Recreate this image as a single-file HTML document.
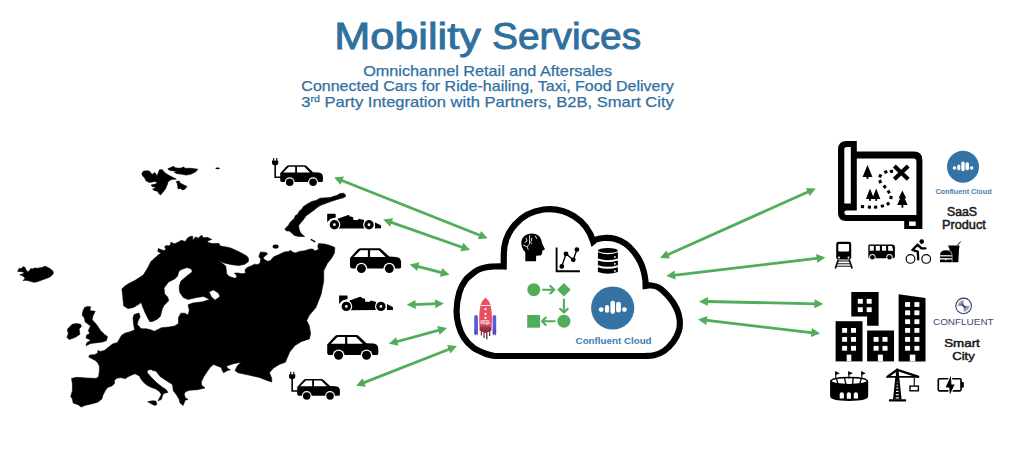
<!DOCTYPE html>
<html><head><meta charset="utf-8"><style>
html,body{margin:0;padding:0;background:#fff;}
body{width:1024px;height:458px;overflow:hidden;position:relative;font-family:"Liberation Sans",sans-serif;}
svg{position:absolute;left:0;top:0;}
</style></head><body>
<svg width="1024" height="458" viewBox="0 0 1024 458">
<g font-family="Liberation Sans" font-size="36" fill="#30709f" stroke="#30709f" stroke-width="0.9"><text x="334.2" y="48.8" textLength="146.7" lengthAdjust="spacingAndGlyphs">Mobility</text><text x="492" y="48.8" textLength="149.1" lengthAdjust="spacingAndGlyphs">Services</text></g>
<g font-family="Liberation Sans" font-size="14.6" fill="#30709f" stroke="#30709f" stroke-width="0.25" text-anchor="middle">
<text x="487.7" y="76.3" textLength="249" lengthAdjust="spacingAndGlyphs">Omnichannel Retail and Aftersales</text>
<text x="487.6" y="91.2" textLength="372.5" lengthAdjust="spacingAndGlyphs">Connected Cars for Ride-hailing, Taxi, Food Delivery</text>
<text x="487.6" y="106.6" textLength="372.5" lengthAdjust="spacingAndGlyphs">3<tspan font-size="9.4" dy="-4.7">rd</tspan><tspan dy="4.7"> Party Integration with Partners, B2B, Smart City</tspan></text>
</g>
<path d="M71.6,378.4 L76.5,377.3 L86.3,378 L96.1,378.4 L98.6,376.8 L99.4,371.1 L99.4,366.1 L97.8,362.9 L95.3,360.4 L92,358.8 L88.8,357.1 L89.6,355 L94.5,354.7 L97.8,353 L97.8,350.6 L100.2,351.4 L104.3,350.6 L108.4,347.3 L112.5,344 L117.5,342.4 L119.9,338.3 L121.5,335.4 L124.8,333.2 L129.2,332.1 L134.6,329.9 L133.5,323.4 L133,317.9 L134.1,314.6 L139,313 L140.1,316.8 L137.9,321.2 L137.4,324.5 L141.2,328.8 L146.6,328.8 L151,329.9 L154.4,331.3 L161.6,327.7 L168.8,327.1 L174.8,325.9 L178.5,323.5 L178.5,317.4 L180.9,313.2 L184.5,313.2 L188.1,315 L189.3,310.2 L188.1,304.8 L192.9,303 L202.5,301.8 L209.7,299.4 L203.7,296.4 L196.5,297.6 L188.1,299.4 L183.3,297.6 L179.7,292.2 L179.2,286.6 L180.8,281.2 L186.9,275.9 L192.2,272 L191.5,269 L186.9,267.5 L180.8,269.8 L178.5,272 L177.7,275.9 L174.6,278.9 L168.5,282 L164,288.1 L164.6,294 L167.6,297 L168.8,300.6 L164,305.4 L162.2,309 L160.4,316.2 L157.5,319 L153.2,321.2 L149.9,321.7 L147.7,317.9 L145,312.5 L142.8,307 L141.2,302.6 L137.9,304.8 L133.5,307.5 L128.1,308.6 L123.7,305.9 L123.2,301.5 L122.6,295 L121.9,288.9 L124.2,286.6 L128.8,283.5 L134.9,280.5 L139.5,277.4 L143.3,275.1 L145.6,271.3 L147.9,267.5 L150.9,261.6 L153.1,259.4 L156.6,256.4 L158.8,254.6 L161,253.3 L160.1,252.5 L157.9,251.6 L158.3,248.5 L161.4,249.8 L164.5,250.7 L165.8,248.5 L164.5,246.8 L166.2,245.5 L168.8,245.9 L170.6,244.6 L171,242 L172.8,243.3 L174.9,243.7 L177.6,242.4 L180.2,241.1 L181,240.2 L183.7,241.1 L185.4,241.5 L187.6,238 L190.7,236.3 L192.8,236.3 L192.4,240.2 L195,237.6 L196.5,236.9 L198,238.4 L200.2,236.2 L202.1,235.4 L202.8,237.3 L204.7,237.7 L206.9,237.3 L209.8,238.4 L211.7,239.5 L209.8,240.2 L207.2,241 L208.4,242.5 L212.1,243.6 L215.8,243.6 L218,243.2 L219.5,244 L219.5,245.4 L222.5,246.6 L226.2,246.9 L230.6,248 L235.1,249.9 L239.5,252.1 L244,254.4 L247,256.2 L248.5,258.4 L248.4,261.6 L244.9,264.2 L238.8,265.5 L231.8,264.7 L224,262.9 L218.3,260.3 L221.4,262.5 L225.7,266 L226.2,269.5 L226.6,273.8 L229.2,276.4 L234.5,278.2 L237.1,277.3 L236.2,275.1 L234.5,273 L238,273 L242.3,273.8 L245.8,273 L244.9,270.3 L246.7,267.7 L251,266 L254.5,264.2 L258,264.7 L260.2,262.5 L260.7,259 L258.9,256.4 L259.8,253.7 L260.7,252 L265.9,252.4 L267.6,253.7 L265.9,255.5 L263.3,257.2 L264.1,259.4 L267.6,261.2 L270.2,260.8 L273.7,256.8 L279,254.6 L284.3,252 L288.7,251.5 L290.9,250.2 L292.2,252 L295.7,252.9 L299.2,251.5 L304.5,250.7 L310.6,248.9 L313.3,249.3 L315,251.1 L318.6,249.3 L317.7,246.3 L318.6,243.6 L324.7,244.1 L330.9,245.8 L334.8,247.6 L334.4,252.9 L331.7,258.1 L327.3,263.4 L323.7,270.7 L323.7,281.2 L321.1,294.3 L315.9,307.4 L309.3,315.3 L306.7,320.5 L309.3,325.8 L310.6,333.7 L309.3,338.9 L301.5,341.5 L294.9,345.5 L289.7,352 L287,358.3 L285.4,362.2 L279.3,364.4 L273.2,368.3 L269.4,372.8 L271.7,378.2 L271.7,382 L267.1,380.5 L259.4,377.4 L248.8,375.1 L238.1,372.8 L235,370.6 L237.3,366 L241.1,362.2 L233.5,363.7 L226.6,366 L227.4,368.3 L230.4,369.8 L227.4,370.6 L223.5,372.8 L222,369.8 L221.3,367.5 L217.4,366 L213.6,364.4 L210.6,366.7 L207.2,371.6 L203.9,376.6 L201.2,382 L201.7,385.3 L205,388 L197.3,389.7 L189.7,390.2 L185.3,391.8 L184.2,394.6 L185.3,397.8 L188.1,399.5 L185.3,400 L184.2,402.8 L183.1,405.5 L179.9,402.8 L179.3,399.5 L176.6,395.1 L173.3,390.7 L172.8,386.4 L172.2,384.2 L166.8,380.9 L160.2,376.6 L155.9,371.1 L152.5,370.4 L151.4,369.6 L148.1,370 L147,371 L147.7,373.3 L151.5,377.6 L155.9,382 L161.3,386.4 L166.2,389.7 L167.9,392.4 L163.5,393.5 L162.4,396.2 L161.3,399.5 L158,400.8 L160.2,396.7 L161.3,394.6 L159.7,391.8 L155.9,389.1 L151.5,387.5 L147.1,385.3 L143.8,382.6 L141.1,379.3 L139.5,376 L135.1,373.8 L131.8,374.9 L127.5,377.1 L125.3,378.7 L120.9,377.6 L116.6,378.2 L114.4,380.4 L114.4,383.6 L112.2,385.8 L107.6,387.5 L105.2,390.7 L102.7,395.7 L101.9,398.9 L97.8,402.2 L91.2,403.9 L84.7,405.5 L81.4,407.1 L78.1,404.7 L73.2,403 L72.4,399 L70.7,396.5 L72.4,390.7 L72.4,384.2 Z" fill="#000" stroke="#000" stroke-width="0.6" stroke-linejoin="round"/>
<path d="M17.7,271.4 L19.2,268.3 L21.3,268.5 L23.4,266.5 L25.3,267.8 L26,269.9 L27.6,271.7 L29.7,270.6 L30.8,268.5 L32.3,269.1 L34.7,268 L37.6,268.3 L40.2,267.8 L42.8,267.2 L44.9,266.2 L47.5,267.2 L50.1,268.8 L52.8,270.9 L53.5,273 L52.2,275.1 L49.6,277.2 L45.4,278.8 L41.2,280.3 L36.5,281.9 L33.4,282.2 L29.7,281.1 L26,280.3 L22.9,280.6 L25,278.8 L24,276.7 L21.9,275.6 L19.8,274.6 L23.2,273.8 L24.2,272.5 L21.9,271.7 Z" fill="#000" stroke="#000" stroke-width="0.6" stroke-linejoin="round"/>
<path d="M67.6,328.9 L72.2,324.3 L76.8,323.6 L80.6,324.3 L81.4,326.6 L79.1,328.9 L79.9,334.3 L75.3,337.3 L69.2,339.6 L66.9,337.3 L68.4,333.5 L67.6,331.2 Z" fill="#000" stroke="#000" stroke-width="0.6" stroke-linejoin="round"/>
<path d="M84.5,307.5 L87.5,306.6 L90.6,306.8 L89.8,310.6 L95.2,311.3 L92.9,315.9 L92.1,319.8 L94.4,322 L97.5,325.9 L100.5,330.5 L104.3,334.3 L107.4,336.6 L106.6,340.4 L102.8,341.9 L96.7,342.7 L90.6,343.5 L86,345.7 L86.8,342.7 L90.6,340.4 L88.3,338.9 L86,338.1 L86.8,335 L89.8,333.5 L88.3,330.5 L90.6,325.9 L88.3,324.3 L85.2,322 L84.5,318.2 L82.2,315.2 L82.9,311.3 Z" fill="#000" stroke="#000" stroke-width="0.6" stroke-linejoin="round"/>
<path d="M141.8,173.7 L143.3,171.2 L146.7,170.7 L149.6,171.2 L151.1,173.2 L152.1,174.6 L154.1,172.7 L155.5,173.2 L157,176.1 L158.5,172.2 L159.5,169.7 L162.4,169.7 L163.9,171.7 L166.3,173.7 L169.3,175.6 L174.2,178.1 L176.2,179.1 L171.3,179.6 L168.3,181.5 L167.3,184.5 L165.4,188.9 L162.4,192.8 L160.9,194.8 L159,193.8 L157.5,191.3 L154.1,190.4 L152.6,188.9 L156.5,187.4 L152.1,186.4 L151.1,185 L155.5,184 L157.5,182.5 L154.6,181.5 L149.6,182.5 L146.2,181 L144.7,178.1 L142.8,176.1 Z" fill="#000" stroke="#000" stroke-width="0.6" stroke-linejoin="round"/>
<path d="M167.8,168.8 L171.3,167.3 L173.2,166.3 L175.2,167.8 L179.1,168.3 L182.1,167.8 L183.5,166.8 L185,168.3 L190.9,168.3 L197.8,169.2 L195.8,171.7 L190.9,174.2 L186,175.1 L182.1,174.2 L177.2,173.7 L174.2,172.2 L177.2,171.2 L172.2,170.7 L169.3,170.2 Z" fill="#000" stroke="#000" stroke-width="0.6" stroke-linejoin="round"/>
<path d="M176.2,181.5 L179.1,181 L180.1,183 L183,184.5 L187,186.4 L185,188.9 L183,189.9 L180.1,188.4 L178.1,188.9 L177.6,185.5 L177.2,183.5 Z" fill="#000" stroke="#000" stroke-width="0.6" stroke-linejoin="round"/>
<path d="M345.5,194.8 L343.5,193.2 L340,193.6 L337.2,195.2 L330,197.6 L320,198.2 L316.1,200.4 L311.7,201.5 L307.9,203.7 L303.5,206.4 L301.9,209.1 L299.1,211.3 L298,214 L295.3,215.7 L294.2,218.4 L292,220.6 L289.8,222.8 L288.7,225 L286,227.7 L284.9,229.3 L286.6,231 L289.3,231 L292,233.2 L294.2,235.4 L298.6,236.4 L304.6,236.6 L300.8,233.2 L299.1,229.3 L298.6,225.5 L300.8,222.8 L303.5,219.5 L306.2,215.7 L310,213 L313.9,210.2 L317.2,207.5 L320,205.6 L322.8,204.4 L330,201.8 L337.2,199.4 L343.2,197.8 L345.5,196.6 Z" fill="#000" stroke="#000" stroke-width="0.6" stroke-linejoin="round"/>
<path d="M147.7,401.7 L152.5,400.8 L155.9,401.1 L156.9,404.4 L154.8,405.5 L150.4,403.3 Z" fill="#000" stroke="#000" stroke-width="0.6" stroke-linejoin="round"/>
<path d="M209.7,292.2 L213.3,290.4 L218.1,293.4 L219.3,296.4 L215.1,299.4 L212.1,297 Z" fill="#fff" stroke="#fff" stroke-width="0.6" stroke-linejoin="round"/>
<ellipse cx="275.6" cy="246.6" rx="3" ry="2" fill="#000"/>
<line x1="310.8" y1="239.3" x2="315.3" y2="241.8" stroke="#000" stroke-width="1.4"/>
<ellipse cx="217.6" cy="168.3" rx="2.2" ry="0.9" fill="#000"/>
<line x1="340.6" y1="180.0" x2="481.1" y2="235.7" stroke="#52ad5b" stroke-width="2.8"/><polygon points="334.1,177.4 340.6,184.8 343.9,176.5" fill="#52ad5b"/><polygon points="487.6,238.3 477.8,239.2 481.1,230.9" fill="#52ad5b"/>
<line x1="389.9" y1="221.9" x2="463.5" y2="247.7" stroke="#52ad5b" stroke-width="2.8"/><polygon points="383.3,219.6 390.1,226.8 393.1,218.3" fill="#52ad5b"/><polygon points="470.1,250.0 460.3,251.3 463.3,242.8" fill="#52ad5b"/>
<line x1="416.6" y1="266.2" x2="442.7" y2="272.9" stroke="#52ad5b" stroke-width="2.8"/><polygon points="409.8,264.4 417.2,271.0 419.4,262.3" fill="#52ad5b"/><polygon points="449.5,274.7 439.9,276.8 442.1,268.1" fill="#52ad5b"/>
<line x1="413.8" y1="304.6" x2="436.9" y2="303.7" stroke="#52ad5b" stroke-width="2.8"/><polygon points="406.8,304.8 415.8,309.0 415.4,300.0" fill="#52ad5b"/><polygon points="443.9,303.5 435.3,308.3 434.9,299.3" fill="#52ad5b"/>
<line x1="395.6" y1="342.0" x2="440.1" y2="329.9" stroke="#52ad5b" stroke-width="2.8"/><polygon points="388.8,343.8 398.5,345.8 396.1,337.2" fill="#52ad5b"/><polygon points="446.9,328.1 439.6,334.7 437.2,326.1" fill="#52ad5b"/>
<line x1="362.7" y1="383.1" x2="450.3" y2="348.7" stroke="#52ad5b" stroke-width="2.8"/><polygon points="356.1,385.7 365.9,386.7 362.6,378.3" fill="#52ad5b"/><polygon points="456.9,346.1 450.4,353.5 447.1,345.1" fill="#52ad5b"/>
<line x1="666.5" y1="255.2" x2="809.4" y2="191.3" stroke="#52ad5b" stroke-width="2.8"/><polygon points="660.1,258.1 670.0,258.6 666.3,250.4" fill="#52ad5b"/><polygon points="815.8,188.4 809.6,196.1 805.9,187.9" fill="#52ad5b"/>
<line x1="673.3" y1="275.3" x2="818.4" y2="258.2" stroke="#52ad5b" stroke-width="2.8"/><polygon points="666.3,276.1 675.6,279.5 674.5,270.6" fill="#52ad5b"/><polygon points="825.4,257.4 817.2,262.9 816.1,254.0" fill="#52ad5b"/>
<line x1="706.1" y1="301.5" x2="816.3" y2="303.9" stroke="#52ad5b" stroke-width="2.8"/><polygon points="699.1,301.4 707.8,306.1 708.0,297.1" fill="#52ad5b"/><polygon points="823.3,304.0 814.4,308.3 814.6,299.3" fill="#52ad5b"/>
<line x1="705.1" y1="320.2" x2="813.1" y2="332.8" stroke="#52ad5b" stroke-width="2.8"/><polygon points="698.1,319.4 706.3,324.9 707.4,315.9" fill="#52ad5b"/><polygon points="820.1,333.6 810.8,337.1 811.9,328.1" fill="#52ad5b"/>
<g transform="translate(280.2,165.2) scale(0.836)"><path d="M-8.4 -8.6 h1.3 v3.2 h-1.3 Z M-4.8 -8.6 h1.3 v3.2 h-1.3 Z" fill="#000"/><path d="M-9.8 -5.6 h7.5 v2.6 q0 3.2 -3.75 3.2 q-3.75 0 -3.75 -3.2 Z" fill="#000"/><path d="M-6.0 0 V14.4 H1" fill="none" stroke="#000" stroke-width="1.9"/><path d="M0 9.6 L7.6 1.3 Q8.8 0 10.6 0 L29 0 Q30.5 0 31.6 1.1 L39.3 8.3 L46 8.6 Q51.1 9 51.1 14 L51.1 18.6 Q51.1 20.1 49.4 20.1 L2 20.1 Q0 20.1 0 18 Z" fill="#000"/><path d="M3.6 8.7 L10.4 1.9 L17.9 1.9 L17.9 8.7 Z M20.1 1.9 L28.8 1.9 L35.6 8.7 L20.1 8.7 Z" fill="#fff"/><circle cx="11.4" cy="20.3" r="5.9" fill="#fff"/><circle cx="11.4" cy="20.3" r="4.5" fill="#000"/><circle cx="39.3" cy="20.3" r="5.9" fill="#fff"/><circle cx="39.3" cy="20.3" r="4.5" fill="#000"/></g>
<g transform="translate(327.2,213.8)"><path d="M0 0 H7.6 Q8.5 0 8.5 1 V3.6 L3.3 4.9 L0 8.5 Z" fill="#000"/><path d="M10.5 4.9 L21 1.3 L22.3 1.6 L22.6 2.6 L24.9 2.9 L25.9 3.6 L26.2 6.2 L30.8 6.2 L31.4 4.9 L36.7 6.2 L37.5 14.6 L10.5 14.8 Z" fill="#000"/><path d="M47.8 8.6 L53.2 11.2 Q53.9 11.6 53.9 12.6 L53.9 14 Q53.9 14.5 53.4 14.5 L47.8 14.6 Z" fill="#000"/><circle cx="7.2" cy="10.9" r="5.9" fill="#fff"/><circle cx="7.2" cy="10.9" r="4.7" fill="#000"/><circle cx="7.2" cy="10.9" r="1.4" fill="#fff"/><circle cx="41.8" cy="10.9" r="5.9" fill="#fff"/><circle cx="41.8" cy="10.9" r="4.7" fill="#000"/><circle cx="41.8" cy="10.9" r="1.4" fill="#fff"/></g>
<g transform="translate(350,248.3) scale(1.0)"><path d="M0 9.6 L7.6 1.3 Q8.8 0 10.6 0 L29 0 Q30.5 0 31.6 1.1 L39.3 8.3 L46 8.6 Q51.1 9 51.1 14 L51.1 18.6 Q51.1 20.1 49.4 20.1 L2 20.1 Q0 20.1 0 18 Z" fill="#000"/><path d="M3.6 8.7 L10.4 1.9 L17.9 1.9 L17.9 8.7 Z M20.1 1.9 L28.8 1.9 L35.6 8.7 L20.1 8.7 Z" fill="#fff"/><circle cx="11.4" cy="20.3" r="5.9" fill="#fff"/><circle cx="11.4" cy="20.3" r="4.5" fill="#000"/><circle cx="39.3" cy="20.3" r="5.9" fill="#fff"/><circle cx="39.3" cy="20.3" r="4.5" fill="#000"/></g>
<g transform="translate(339.1,295.5)"><path d="M0 0 H7.6 Q8.5 0 8.5 1 V3.6 L3.3 4.9 L0 8.5 Z" fill="#000"/><path d="M10.5 4.9 L21 1.3 L22.3 1.6 L22.6 2.6 L24.9 2.9 L25.9 3.6 L26.2 6.2 L30.8 6.2 L31.4 4.9 L36.7 6.2 L37.5 14.6 L10.5 14.8 Z" fill="#000"/><path d="M47.8 8.6 L53.2 11.2 Q53.9 11.6 53.9 12.6 L53.9 14 Q53.9 14.5 53.4 14.5 L47.8 14.6 Z" fill="#000"/><circle cx="7.2" cy="10.9" r="5.9" fill="#fff"/><circle cx="7.2" cy="10.9" r="4.7" fill="#000"/><circle cx="7.2" cy="10.9" r="1.4" fill="#fff"/><circle cx="41.8" cy="10.9" r="5.9" fill="#fff"/><circle cx="41.8" cy="10.9" r="4.7" fill="#000"/><circle cx="41.8" cy="10.9" r="1.4" fill="#fff"/></g>
<g transform="translate(327.2,335) scale(1.0)"><path d="M0 9.6 L7.6 1.3 Q8.8 0 10.6 0 L29 0 Q30.5 0 31.6 1.1 L39.3 8.3 L46 8.6 Q51.1 9 51.1 14 L51.1 18.6 Q51.1 20.1 49.4 20.1 L2 20.1 Q0 20.1 0 18 Z" fill="#000"/><path d="M3.6 8.7 L10.4 1.9 L17.9 1.9 L17.9 8.7 Z M20.1 1.9 L28.8 1.9 L35.6 8.7 L20.1 8.7 Z" fill="#fff"/><circle cx="11.4" cy="20.3" r="5.9" fill="#fff"/><circle cx="11.4" cy="20.3" r="4.5" fill="#000"/><circle cx="39.3" cy="20.3" r="5.9" fill="#fff"/><circle cx="39.3" cy="20.3" r="4.5" fill="#000"/></g>
<g transform="translate(297.2,379) scale(0.836)"><path d="M-8.4 -8.6 h1.3 v3.2 h-1.3 Z M-4.8 -8.6 h1.3 v3.2 h-1.3 Z" fill="#000"/><path d="M-9.8 -5.6 h7.5 v2.6 q0 3.2 -3.75 3.2 q-3.75 0 -3.75 -3.2 Z" fill="#000"/><path d="M-6.0 0 V14.4 H1" fill="none" stroke="#000" stroke-width="1.9"/><path d="M0 9.6 L7.6 1.3 Q8.8 0 10.6 0 L29 0 Q30.5 0 31.6 1.1 L39.3 8.3 L46 8.6 Q51.1 9 51.1 14 L51.1 18.6 Q51.1 20.1 49.4 20.1 L2 20.1 Q0 20.1 0 18 Z" fill="#000"/><path d="M3.6 8.7 L10.4 1.9 L17.9 1.9 L17.9 8.7 Z M20.1 1.9 L28.8 1.9 L35.6 8.7 L20.1 8.7 Z" fill="#fff"/><circle cx="11.4" cy="20.3" r="5.9" fill="#fff"/><circle cx="11.4" cy="20.3" r="4.5" fill="#000"/><circle cx="39.3" cy="20.3" r="5.9" fill="#fff"/><circle cx="39.3" cy="20.3" r="4.5" fill="#000"/></g>
<path d="M645 356 L495 356 C493.55 355.67 489.90 355.37 486.3 354 C482.70 352.63 477.12 350.50 473.4 347.8 C469.68 345.10 466.50 341.63 464 337.8 C461.50 333.97 459.63 329.43 458.4 324.8 C457.17 320.17 456.45 315.38 456.6 310 C456.75 304.62 457.83 297.45 459.3 292.5 C460.77 287.55 463.17 283.47 465.4 280.3 C467.63 277.13 470.57 275.27 472.7 273.5 C474.83 271.73 475.92 270.75 478.2 269.7 C480.48 268.65 483.95 267.73 486.4 267.2 C488.85 266.67 490.63 266.65 492.9 266.5 C495.17 266.35 498.20 266.30 500 266.3 C501.80 266.30 503.08 266.47 503.7 266.5 L503.8 253.6 A45.6 45 0 0 1 593.2 241.6 C593.60 241.27 593.77 240.20 595.6 239.6 C597.43 239.00 600.88 238.10 604.2 238 C607.52 237.90 611.95 238.03 615.5 239 C619.05 239.97 622.42 241.62 625.5 243.8 C628.58 245.98 631.52 249.05 634 252.1 C636.48 255.15 638.75 258.78 640.4 262.1 C642.05 265.42 643.07 268.93 643.9 272 C644.73 275.07 645.12 278.17 645.4 280.5 C645.68 282.83 645.57 285.08 645.6 286 C646.33 285.90 647.80 285.13 650 285.4 C652.20 285.67 655.63 285.65 658.8 287.6 C661.97 289.55 666.03 293.60 669 297.1 C671.97 300.60 674.82 304.78 676.6 308.6 C678.38 312.42 679.33 316.27 679.7 320 C680.07 323.73 679.92 327.30 678.8 331 C677.68 334.70 675.47 338.87 673 342.2 C670.53 345.53 667.17 348.82 664 351 C660.83 353.18 657.17 354.47 654 355.3 C650.83 356.13 646.50 355.88 645 356 Z" fill="#fff" stroke="#000" stroke-width="6.2" stroke-linejoin="miter"/>
<path d="M525.3 261.2 L525.3 252.2 C522.8 250 521.3 246.5 521.3 242.8 C521.3 237.2 526 233.5 531.6 233.5 C537.4 233.5 540.6 236.6 541.4 240.4 L542.4 244.3 L544.8 248.7 Q545 249.6 544 249.9 L542.4 250.6 L542.2 253 Q541.8 255.5 539.6 255.6 L536.1 255.7 L536.1 261.2 Z" fill="#000"/>
<path d="M529.6 235.6 V244.2 L527 246.6 L528.2 249.4 M527 246.6 L523.6 245.3 M529.6 241.2 L531.8 243.6 M531.6 238.2 V240.8 M526.2 238.4 L527 241.2 L525 242.3 M535.4 236 L536.6 238.6" stroke="#fff" stroke-width="0.85" fill="none" stroke-linecap="round" stroke-linejoin="round"/>
<path d="M556.6 247.4 V271.2 H579.9" fill="none" stroke="#000" stroke-width="1.85"/>
<polyline points="561.8,266.4 566,253.8 573.3,259.8 576.9,249.6" fill="none" stroke="#000" stroke-width="1.4"/>
<circle cx="561.8" cy="266.4" r="2.4" fill="#000"/>
<circle cx="566" cy="253.8" r="2.4" fill="#000"/>
<circle cx="573.3" cy="259.8" r="2.4" fill="#000"/>
<circle cx="576.9" cy="249.6" r="2.4" fill="#000"/>
<g fill="#000"><ellipse cx="607.9" cy="250.5" rx="10" ry="2.4"/><path d="M597.9 252.3 Q607.9 256 617.9 252.3 V258.6 Q607.9 261.8 597.9 258.6 Z"/><path d="M597.9 260.5 Q607.9 263.7 617.9 260.5 V265.2 Q607.9 268.4 597.9 265.2 Z"/><path d="M597.9 267.2 Q607.9 270.4 617.9 267.2 V272 Q607.9 275.5 597.9 272 Z"/></g>
<g fill="#fff"><rect x="614.1" y="256.2" width="1.6" height="1.6"/><rect x="614.1" y="263" width="1.6" height="1.6"/><rect x="614.1" y="270.2" width="1.6" height="1.6"/></g>
<g fill="#52ad5b" stroke="none"><circle cx="533.8" cy="289.7" r="6.5"/><path d="M563.9 282.9 L570.7 289.7 L563.9 296.6 L557.1 289.7 Z"/><circle cx="563.9" cy="321.2" r="6.5"/><rect x="527.2" y="315" width="12.8" height="12.7"/></g>
<g fill="none" stroke="#52ad5b" stroke-width="2.1" stroke-linecap="round" stroke-linejoin="round"><path d="M543 289.7 H554.3 M550.3 285.9 L554.3 289.7 L550.3 293.5"/><path d="M563.9 299.5 V312.6 M560.1 308.8 L563.9 312.6 L567.7 308.8"/><path d="M554.7 321.2 H542 M545.8 317.6 L542 321.2 L545.8 324.9"/></g>
<defs><linearGradient id="rg" x1="0" y1="0" x2="0" y2="1"><stop offset="0" stop-color="#e9505e"/><stop offset="0.66" stop-color="#e6505e"/><stop offset="0.72" stop-color="#9a3548"/><stop offset="1" stop-color="#5e2234"/></linearGradient><linearGradient id="bg" x1="0" y1="0" x2="0" y2="1"><stop offset="0" stop-color="#5b5dd8"/><stop offset="0.65" stop-color="#5658d4"/><stop offset="1" stop-color="#4a3aa0"/></linearGradient></defs>
<path d="M474.2 316.8 Q474.2 315 476 315 Q477.9 315 477.9 316.8 V334 L477 335.8 L476.2 333.5 L475.2 335.5 L474.2 334 Z" fill="url(#bg)"/>
<path d="M492.6 316.8 Q492.6 315 494.4 315 Q496.2 315 496.2 316.8 V334 L495.4 335.8 L494.5 333.5 L493.6 335.5 L492.6 334 Z" fill="url(#bg)"/>
<path d="M485.5 297.6 Q489.5 301 490.6 305 Q492 312 492 318 Q492 323 491.5 327 V331 L490.3 331 V336 L489 336 V332 L487.5 332 V339.2 L486.2 339.2 V333 L484.6 333 V338 L483.4 338 V332 L482 332 V335.5 L480.8 335.5 V331 L479.6 331 V327 Q479.2 323 479.2 318 Q479.2 312 480.5 305 Q481.6 301 485.5 297.6 Z" fill="url(#rg)"/>
<rect x="481" y="305" width="9.5" height="1" fill="#fff" opacity="0.85"/>
<circle cx="485.5" cy="309.2" r="1.1" fill="#fff"/>
<circle cx="485.5" cy="313.9" r="1.1" fill="#fff"/>
<circle cx="485.5" cy="317.9" r="1.1" fill="#fff"/>
<text x="485.5" y="324.4" text-anchor="middle" font-family="Liberation Sans" font-weight="bold" font-size="4.6" fill="#fff" textLength="10" lengthAdjust="spacingAndGlyphs">KSQL</text>
<g transform="translate(612.7,308) scale(1.0000)"><circle r="21.6" fill="#3473a3"/><circle cx="-11.5" cy="1.6" r="2.4" fill="#fff"/><circle cx="11.7" cy="1.6" r="2.4" fill="#fff"/><rect x="-7.7" y="-3" width="4.1" height="7.8" rx="2.05" fill="#fff"/><rect x="-2.3" y="-7.2" width="4.6" height="13.1" rx="2.3" fill="#fff"/><rect x="3.4" y="-6.3" width="4.8" height="10.9" rx="2.4" fill="#fff"/></g>
<text x="613.6" y="344.1" text-anchor="middle" font-family="Liberation Sans" font-weight="bold" font-size="8.6" fill="#3f7db2" textLength="76" lengthAdjust="spacingAndGlyphs">Confluent Cloud</text>
<path d="M838 149.5 Q838 141 846.5 141 L856.8 141 L856.8 151.5 L914 151.5 Q922.4 151.5 922.4 160 L922.4 229 L904.2 229 L904.2 220.9 L846 220.9 Q838 220.9 838 213 Z" fill="#000"/>
<path d="M844.3 149.5 Q844.3 147 846.8 147 L850.8 147 L850.8 203.5 L844.3 203.5 Z" fill="#fff"/>
<path d="M856.8 158.5 L913.4 158.5 Q916.4 158.5 916.4 161.5 L916.4 214.9 L846.4 214.9 Q844.3 214.9 844.3 212.75 Q844.3 210.6 846.4 210.6 L856.8 210.6 Z" fill="#fff"/>
<rect x="909.1" y="221.5" width="6.6" height="4.4" fill="#fff"/>
<path d="M867.5 165 L872.45 177 L862.55 177 Z" fill="#000"/><rect x="866.6" y="176.5" width="1.8" height="2.5" fill="#000"/>
<path d="M870 188.4 L874.1 198.9 L865.9 198.9 Z" fill="#000"/><rect x="869.1" y="198.4" width="1.8" height="2.5" fill="#000"/>
<path d="M876.2 188.4 L880.3000000000001 198.9 L872.1 198.9 Z" fill="#000"/><rect x="875.3000000000001" y="198.4" width="1.8" height="2.5" fill="#000"/>
<path d="M902.4 190.6 L906.2 198.2 L904.6 198.2 L907.6 205 L897.2 205 L900.2 198.2 L898.6 198.2 Z" fill="#000"/><rect x="901.5" y="204.5" width="1.8" height="3.2" fill="#000"/>
<path d="M894.3 165.9 L908.2 179.3 M908.2 165.9 L894.3 179.3" stroke="#000" stroke-width="4.1" fill="none"/>
<rect x="889.9" y="169.9" width="3.2" height="3" fill="#000" transform="rotate(175 891.5 171.4)"/>
<rect x="884.1999999999999" y="170.4" width="3.2" height="3" fill="#000" transform="rotate(158 885.8 171.9)"/>
<rect x="878.6" y="174.4" width="3.2" height="3" fill="#000" transform="rotate(120 880.2 175.9)"/>
<rect x="878.6" y="180.1" width="3.2" height="3" fill="#000" transform="rotate(67 880.2 181.6)"/>
<rect x="883.1" y="185.2" width="3.2" height="3" fill="#000" transform="rotate(50 884.7 186.7)"/>
<rect x="887.1" y="190.3" width="3.2" height="3" fill="#000" transform="rotate(60 888.7 191.8)"/>
<rect x="889.4" y="196.0" width="3.2" height="3" fill="#000" transform="rotate(93 891 197.5)"/>
<rect x="886.5" y="202.3" width="3.2" height="3" fill="#000" transform="rotate(135 888.1 203.8)"/>
<rect x="880.8" y="204.5" width="3.2" height="3" fill="#000" transform="rotate(165 882.4 206)"/>
<rect x="874.0" y="205.7" width="3.2" height="3" fill="#000" transform="rotate(175 875.6 207.2)"/>
<rect x="867.8" y="205.7" width="3.2" height="3" fill="#000" transform="rotate(-177 869.4 207.2)"/>
<rect x="860.9" y="205.1" width="3.2" height="3" fill="#000" transform="rotate(-175 862.5 206.6)"/>
<g transform="translate(963,166.8) scale(0.7407)"><circle r="21.6" fill="#3473a3"/><circle cx="-11.5" cy="1.6" r="2.4" fill="#fff"/><circle cx="11.7" cy="1.6" r="2.4" fill="#fff"/><rect x="-7.7" y="-3" width="4.1" height="7.8" rx="2.05" fill="#fff"/><rect x="-2.3" y="-7.2" width="4.6" height="13.1" rx="2.3" fill="#fff"/><rect x="3.4" y="-6.3" width="4.8" height="10.9" rx="2.4" fill="#fff"/></g>
<text x="963.5" y="194.2" text-anchor="middle" font-family="Liberation Sans" font-weight="bold" font-size="7" fill="#4580b4" textLength="56.2" lengthAdjust="spacingAndGlyphs">Confluent Cloud</text>
<text x="962" y="215.6" text-anchor="middle" font-family="Liberation Sans" font-size="12" fill="#1a1a1a" stroke="#1a1a1a" stroke-width="0.5" textLength="30.1" lengthAdjust="spacingAndGlyphs">SaaS</text>
<text x="963.9" y="228.7" text-anchor="middle" font-family="Liberation Sans" font-size="12" fill="#1a1a1a" stroke="#1a1a1a" stroke-width="0.5" textLength="43.7" lengthAdjust="spacingAndGlyphs">Product</text>
<path d="M838.5 241.8 H848.9 Q851.2 241.8 851.2 244 V257.5 Q851.2 259.6 849 259.6 H838.4 Q836.2 259.6 836.2 257.5 V244 Q836.2 241.8 838.5 241.8 Z" fill="#000"/>
<rect x="838.3" y="243.9" width="10.8" height="7.5" rx="0.8" fill="#fff"/>
<circle cx="839" cy="257.4" r="1" fill="#fff"/><circle cx="848.5" cy="257.4" r="1" fill="#fff"/>
<g stroke="#555" stroke-width="1.4"><line x1="837.6" y1="261" x2="849.8" y2="261"/><line x1="836.8" y1="263.7" x2="850.6" y2="263.7"/><line x1="836" y1="266.3" x2="851.4" y2="266.3"/></g>
<path d="M838.3 259.8 L835.3 268.6 M849.2 259.8 L852.2 268.6" stroke="#000" stroke-width="1.6"/>
<path d="M869.6 244.6 H892.3 Q894.9 244.6 894.9 247.5 V256.6 Q894.9 258.2 893.3 258.2 H869.4 Q868.3 258.2 868.3 257 V246 Q868.3 244.6 869.6 244.6 Z" fill="#000"/>
<g fill="#fff"><rect x="869.7" y="245.9" width="4.1" height="4.8"/><rect x="875.8" y="245.9" width="4.1" height="4.8"/><rect x="882" y="245.9" width="4.1" height="4.8"/><path d="M888.1 245.9 H892 L893.3 250.7 H888.1 Z"/></g>
<circle cx="872.4" cy="257.2" r="3.2" fill="#fff"/><circle cx="872.4" cy="257.2" r="2.3" fill="#000"/><circle cx="889.5" cy="257.2" r="3.2" fill="#fff"/><circle cx="889.5" cy="257.2" r="2.3" fill="#000"/>
<circle cx="910.5" cy="258.9" r="4.35" fill="none" stroke="#000" stroke-width="1.2"/><circle cx="926.2" cy="258.9" r="4.35" fill="none" stroke="#000" stroke-width="1.2"/>
<circle cx="921.7" cy="241.6" r="2.3" fill="#000"/>
<path d="M917.6 244.6 L912.4 250 L917.8 251.6 L918.2 259.4 M917.8 244.9 L921.4 248.4 L925.4 248.4" fill="none" stroke="#000" stroke-width="2.3" stroke-linejoin="round" stroke-linecap="round"/>
<path d="M948.4 245.6 H959.4 V247.6 H959.1 L958.3 262.2 H951 L949.2 247.6 H948.4 Z" fill="#000"/><path d="M957.3 245.4 L960.7 241.5" stroke="#000" stroke-width="1"/>
<g fill="#000" stroke="#fff" stroke-width="1.1" paint-order="stroke"><path d="M940 255.3 Q940 250.3 945.9 250.3 Q951.8 250.3 951.8 255.3 Z"/><path d="M940 256.4 H951.8 V258.2 H940 Z"/><path d="M940 259.4 H944.8 L945.9 260.4 L947 259.4 H951.8 V261.4 Q951.8 262.3 950.9 262.3 H940.9 Q940 262.3 940 261.4 Z"/></g>
<g fill="#000"><path d="M851.3 292 H878.6 V325.8 H867.1 V316.5 H851.3 Z"/><rect x="835.6" y="321.2" width="26.9" height="40.2"/><rect x="867.1" y="330.5" width="26.9" height="30.9"/><path d="M898.6 294.3 L925.5 298 V361.4 H898.6 Z"/></g>
<g fill="#fff"><rect x="857.8" y="298.9" width="5" height="4.8"/><rect x="866.7" y="298.9" width="5" height="4.8"/><rect x="857.8" y="307.3" width="5" height="4.8"/><rect x="866.7" y="307.3" width="5" height="4.8"/><rect x="842.1" y="328" width="5" height="4.8"/><rect x="851" y="328" width="5" height="4.8"/><rect x="842.1" y="337" width="5" height="4.8"/><rect x="851" y="337" width="5" height="4.8"/><rect x="842.1" y="345.9" width="5" height="4.8"/><rect x="851" y="345.9" width="5" height="4.8"/><rect x="873.6" y="337" width="5" height="4.8"/><rect x="882.5" y="337" width="5" height="4.8"/><rect x="873.6" y="345.9" width="5" height="4.8"/><rect x="882.5" y="345.9" width="5" height="4.8"/><rect x="905.1" y="302.1" width="5" height="4.8"/><rect x="914.4" y="302.1" width="5" height="4.8"/><rect x="905.1" y="310.4" width="5" height="4.8"/><rect x="914.4" y="310.4" width="5" height="4.8"/><rect x="905.1" y="319.3" width="5" height="4.8"/><rect x="914.4" y="319.3" width="5" height="4.8"/><rect x="905.1" y="328" width="5" height="4.8"/><rect x="914.4" y="328" width="5" height="4.8"/><rect x="905.1" y="337" width="5" height="4.8"/><rect x="914.4" y="337" width="5" height="4.8"/><rect x="905.1" y="345.9" width="5" height="4.8"/><rect x="914.4" y="345.9" width="5" height="4.8"/><rect x="846.7" y="354.6" width="4.6" height="6.8"/><rect x="877.9" y="354.6" width="5" height="6.8"/><rect x="909.8" y="354.6" width="5.5" height="6.8"/></g>
<circle cx="963.6" cy="305.9" r="7.8" fill="none" stroke="#2b3a67" stroke-width="1.05"/>
<g stroke="#2b3a67" stroke-width="0.55" stroke-linecap="round"><line x1="963.1" y1="305.4" x2="958.20" y2="305.40"/><line x1="964.1" y1="306.4" x2="969.00" y2="306.40"/><line x1="963.1" y1="305.4" x2="958.37" y2="304.13"/><line x1="964.1" y1="306.4" x2="968.83" y2="307.67"/><line x1="963.1" y1="305.4" x2="958.86" y2="302.95"/><line x1="964.1" y1="306.4" x2="968.34" y2="308.85"/><line x1="963.1" y1="305.4" x2="959.64" y2="301.94"/><line x1="964.1" y1="306.4" x2="967.56" y2="309.86"/><line x1="963.1" y1="305.4" x2="960.65" y2="301.16"/><line x1="964.1" y1="306.4" x2="966.55" y2="310.64"/><line x1="963.1" y1="305.4" x2="961.83" y2="300.67"/><line x1="964.1" y1="306.4" x2="965.37" y2="311.13"/><line x1="963.1" y1="305.4" x2="963.10" y2="300.50"/><line x1="964.1" y1="306.4" x2="964.10" y2="311.30"/></g>
<circle cx="963.6" cy="305.9" r="1" fill="#2b3a67"/>
<text x="963.3" y="324.8" text-anchor="middle" font-family="Liberation Sans" font-size="8.7" fill="#3a4874" textLength="60.6" lengthAdjust="spacingAndGlyphs">CONFLUENT</text>
<text x="962" y="346.6" text-anchor="middle" font-family="Liberation Sans" font-size="11.2" fill="#1a1a1a" stroke="#1a1a1a" stroke-width="0.5" textLength="35.6" lengthAdjust="spacingAndGlyphs">Smart</text>
<text x="963.5" y="359.8" text-anchor="middle" font-family="Liberation Sans" font-size="11.2" fill="#1a1a1a" stroke="#1a1a1a" stroke-width="0.5" textLength="22.6" lengthAdjust="spacingAndGlyphs">City</text>
<path d="M830.1 381.5 Q830.1 376.8 849.2 376.8 Q868.2 376.8 868.2 381.5 V396 Q868.2 400.9 849.2 400.9 Q830.1 400.9 830.1 396 Z" fill="#000"/>
<ellipse cx="849.2" cy="381.1" rx="17.3" ry="2.8" fill="#fff"/>
<g stroke="#000" stroke-width="1.3"><line x1="836.4" y1="378.6" x2="838.1" y2="384.2"/><line x1="844.6" y1="378" x2="845.8" y2="384.2"/><line x1="853.1" y1="378" x2="852.6" y2="384.2"/><line x1="861.2" y1="378.6" x2="859.8" y2="384.2"/></g>
<g fill="#fff"><path d="M839.7 398.6 V394.2 Q839.7 392.2 841.8 392.2 Q843.9 392.2 843.9 394.2 V398.6 Z"/><path d="M846.8 398.8 V394.2 Q846.8 392.2 848.85 392.2 Q850.9 392.2 850.9 394.2 V398.8 Z"/><path d="M853.8 398.6 V394.2 Q853.8 392.2 855.9 392.2 Q858 392.2 858 394.2 V398.6 Z"/></g>
<g stroke="#000" stroke-width="1.1"><line x1="835.8" y1="371.6" x2="835.8" y2="378.5"/><line x1="848.9" y1="371.6" x2="848.9" y2="378.5"/><line x1="861.8" y1="371.6" x2="861.8" y2="378.5"/></g>
<g fill="#000"><path d="M835.3 371.2 L839.8 373.3 L835.3 375.3 Z"/><path d="M848.4 371.2 L852.9 373.3 L848.4 375.3 Z"/><path d="M861.3 371.2 L865.8 373.3 L861.3 375.3 Z"/></g>
<path d="M896.1 370 L897.3 368.4 L898.5 370 L901.6 399.4 L893 399.4 Z" fill="#000"/>
<rect x="888.9" y="399.3" width="17.2" height="2.3" rx="0.6" fill="#000"/>
<g stroke="#000" stroke-width="2.3" stroke-linecap="round"><line x1="897.3" y1="369.8" x2="887.6" y2="376.6"/><line x1="897.3" y1="369.8" x2="918" y2="376.6"/></g><g stroke="#000" stroke-width="1.8" stroke-linecap="round"><line x1="887.3" y1="376.9" x2="918.5" y2="376.9"/></g>
<g fill="#fff"><path d="M891.6 375.9 L895.6 373.3 L895.6 375.9 Z"/><path d="M899.2 373 L899.2 375.9 L906.6 375.9 Z"/></g>
<g fill="#fff"><rect x="896.80" y="381.6" width="1.0" height="0.9"/><rect x="896.60" y="384.7" width="1.4" height="1.0"/><rect x="896.35" y="387.6" width="1.9" height="1.1"/><rect x="896.10" y="390.8" width="2.4" height="1.2"/><rect x="895.85" y="394.1" width="2.9" height="1.2"/><rect x="895.60" y="397.3" width="3.4" height="1.2"/></g>
<line x1="914.3" y1="377.5" x2="914.3" y2="385.8" stroke="#000" stroke-width="1.1"/><rect x="910" y="386.1" width="8.4" height="4.7" fill="#fff" stroke="#000" stroke-width="1.4"/>
<rect x="938.3" y="378.7" width="22.7" height="12.1" rx="1" fill="none" stroke="#000" stroke-width="1.65"/>
<rect x="961" y="382.1" width="2.8" height="5.6" rx="0.7" fill="#000"/>
<path d="M950.9 375.8 L945.6 387.6 L949.2 387.6 L949.9 394.6 L954.6 384.4 L951.4 384.4 Z" fill="#000" stroke="#fff" stroke-width="2.2" stroke-linejoin="round" paint-order="stroke"/>
</svg>
</body></html>
